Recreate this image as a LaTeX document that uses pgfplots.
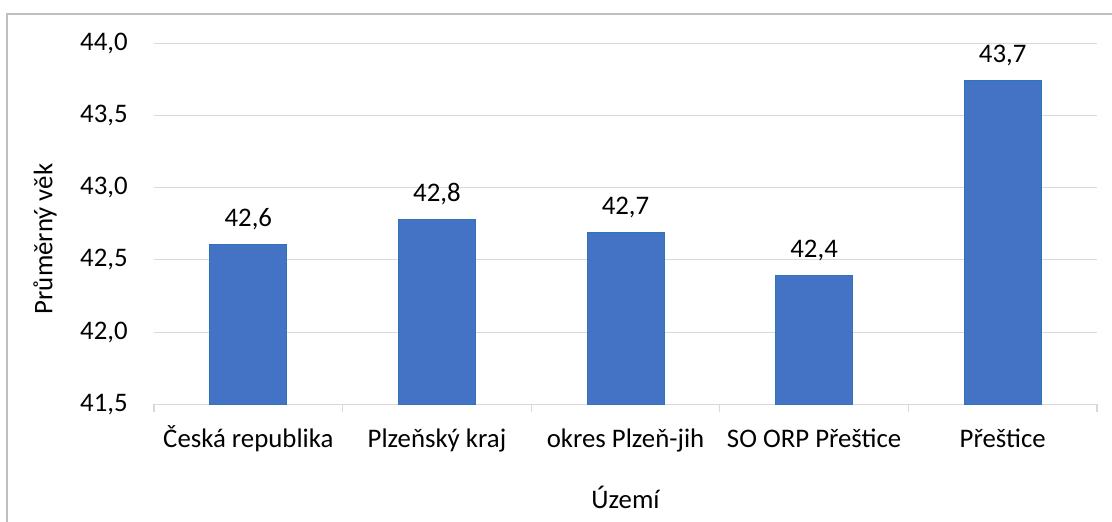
\documentclass[border=0pt]{standalone}
\usepackage{pgfplots}
\pgfplotsset{compat=1.18}
\usepackage{fontspec}
\setmainfont{Carlito}

\definecolor{barfill}{RGB}{68,114,196}
\definecolor{baredge}{RGB}{46,117,182}
\definecolor{gridgray}{RGB}{217,217,217}
\definecolor{framegray}{RGB}{191,191,191}

\begin{document}
\begin{tikzpicture}
\fontsize{13.4}{16}\selectfont
% page of 1112 x 521 px, at 0.5pt per px
\path[use as bounding box] (0,0) rectangle (556pt,260.5pt);
\draw[framegray, line width=0.8pt] (3.5pt,-2pt) -- (3.5pt,253.5pt) -- (558pt,253.5pt);

\begin{axis}[
    at={(77pt,58.35pt)}, anchor=south west,
    scale only axis,
    width=471.5pt, height=180.5pt,
    ymin=41.5, ymax=44.0,
    ytick={41.5,42,42.5,43,43.5,44},
    xmin=-0.5, xmax=4.5,
    xtick={0,1,2,3,4},
    xticklabels={Česká republika, Plzeňský kraj, okres Plzeň-jih, SO ORP Přeštice, Přeštice},
    major tick length=0pt,
    extra x ticks={-0.5,0.5,1.5,2.5,3.5,4.5},
    extra x tick labels={},
    extra x tick style={tick align=outside, major tick length=4pt, tick style={gridgray, line width=0.6pt}, grid=none},
    axis lines*=left,
    x axis line style={gridgray, line width=0.6pt, -},
    y axis line style={draw=none},
    ymajorgrids=true,
    grid style={gridgray, line width=0.5pt},
    /pgf/number format/assume math mode=true,
    /pgf/number format/use comma,
    /pgf/number format/fixed,
    /pgf/number format/fixed zerofill,
    /pgf/number format/precision=1,
    yticklabel style={anchor=east, xshift=-8.5pt},
    xticklabel style={anchor=base, yshift=-21.35pt},
    ylabel={Průměrný věk},
    ylabel style={at={(rel axis cs:-0.1156,0.458)}, anchor=center},
    xlabel={Území},
    xlabel style={at={(rel axis cs:0.5,-0.257)}, anchor=center},
    ybar,
    bar width=38.5pt,
    nodes near coords,
    nodes near coords style={anchor=base, yshift=9pt,
        /pgf/number format/assume math mode=true,
        /pgf/number format/use comma,
        /pgf/number format/fixed,
        /pgf/number format/fixed zerofill,
        /pgf/number format/precision=1},
    clip=false,
]
\addplot[fill=barfill, draw=baredge, line width=0.5pt] coordinates {
    (0,42.61) (1,42.78) (2,42.69) (3,42.39) (4,43.74)
};
\end{axis}
\end{tikzpicture}
\end{document}
